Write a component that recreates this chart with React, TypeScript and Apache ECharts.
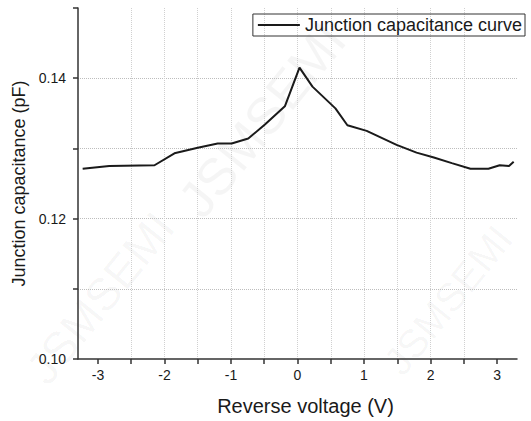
import React, { useEffect, useRef } from "react";
import * as echarts from "echarts";

const voltage = [-3.23, -2.83, -2.15, -1.85, -1.5, -1.2, -0.99, -0.74, -0.49, -0.19, 0.03, 0.225, 0.57, 0.75, 1.04, 1.49, 1.79, 2.05, 2.32, 2.6, 2.87, 3.04, 3.18, 3.25];
const capacitance = [0.1271, 0.1275, 0.1276, 0.1293, 0.1301, 0.1307, 0.1307, 0.1314, 0.1334, 0.136, 0.1415, 0.1388, 0.1357, 0.1333, 0.1325, 0.1305, 0.1294, 0.1287, 0.1279, 0.1271, 0.1271, 0.1276, 0.1275, 0.1281];
const xTickValues = [-3, -2.5, -2, -1.5, -1, -0.5, 0, 0.5, 1, 1.5, 2, 2.5, 3];
const xLabelValues = [-3, -2, -1, 0, 1, 2, 3];
const yTickValues = [0.1, 0.11, 0.12, 0.13, 0.14, 0.15];
const yLabelValues = [0.1, 0.12, 0.14];
const seriesName = "Junction capacitance curve";

export default function App() {
  const ref = useRef<HTMLDivElement>(null);
  useEffect(() => {
    if (!ref.current) return;
    const chart = echarts.init(ref.current, null, { renderer: "svg" });
    const font = "'Liberation Sans', Arial, sans-serif";
    const wm = (x: number, y: number, size: number) => ({
      type: "text",
      x,
      y,
      rotation: 0.89,
      z: 0,
      silent: true,
      style: {
        text: "JSMSEMI",
        fontSize: size,
        fontFamily: font,
        fill: "rgba(0,0,0,0.04)",
        align: "center",
        verticalAlign: "middle",
      },
    });
    chart.setOption({
      animation: false,
      backgroundColor: "#ffffff",
      graphic: [wm(100, 298, 46), wm(262, 120, 52), wm(448, 300, 40)],
      grid: { left: 78, right: 14, top: 8, bottom: 60, containLabel: false },
      legend: {
        right: 6,
        top: 14,
        padding: [2, 3, 2, 5],
        borderColor: "#333",
        borderWidth: 1,
        itemWidth: 42,
        itemHeight: 14,
        itemGap: 6,
        textStyle: { fontSize: 18, color: "#1a1a1a", fontFamily: font },
        data: [{ name: seriesName, icon: "path://M0,6 L40,6 L40,8 L0,8 Z" }],
      },
      xAxis: {
        type: "value",
        min: -3.3,
        max: 3.3,
        splitNumber: 13,
        name: "Reverse voltage (V)",
        nameLocation: "middle",
        nameGap: 37,
        nameTextStyle: { fontSize: 20, color: "#1a1a1a", fontFamily: font, padding: [0, 0, 0, 16] },
        axisLine: { show: true, onZero: false, lineStyle: { color: "#333", width: 1.5 } },
        axisTick: { show: true, inside: false, length: 5, customValues: xTickValues, lineStyle: { color: "#333", width: 1.5 } },
        axisLabel: {
          customValues: xLabelValues,
          fontSize: 14,
          color: "#1a1a1a",
          fontFamily: font,
          margin: 9,
          formatter: (v: number) => String(v),
        },
        splitLine: {
          show: true,
          showMinLine: false,
          showMaxLine: false,
          lineStyle: { color: "#d0d0d0", type: "dotted", width: 1 },
        },
      },
      yAxis: {
        type: "value",
        min: 0.1,
        max: 0.15,
        interval: 0.01,
        name: "Junction capacitance (pF)",
        nameLocation: "middle",
        nameGap: 41,
        nameTextStyle: { fontSize: 18, color: "#1a1a1a", fontFamily: font },
        axisLine: { show: true, onZero: false, lineStyle: { color: "#333", width: 1.5 } },
        axisTick: { show: true, inside: false, length: 5, customValues: yTickValues, lineStyle: { color: "#333", width: 1.5 } },
        axisLabel: {
          customValues: yLabelValues,
          fontSize: 14,
          color: "#1a1a1a",
          fontFamily: font,
          margin: 12,
          formatter: (v: number) => v.toFixed(2),
        },
        splitLine: {
          show: true,
          showMinLine: false,
          showMaxLine: false,
          lineStyle: { color: "#bdbdbd", type: "dotted", width: 1 },
        },
      },
      series: [
        {
          name: seriesName,
          type: "line",
          symbol: "none",
          data: voltage.map((v, i) => [v, capacitance[i]]),
          lineStyle: { color: "#1a1a1a", width: 2 },
          itemStyle: { color: "#1a1a1a" },
          z: 3,
        },
      ],
    });
    return () => chart.dispose();
  }, []);
  return <div ref={ref} style={{ width: 531, height: 421, position: "absolute", left: 0, top: 0 }} />;
}
